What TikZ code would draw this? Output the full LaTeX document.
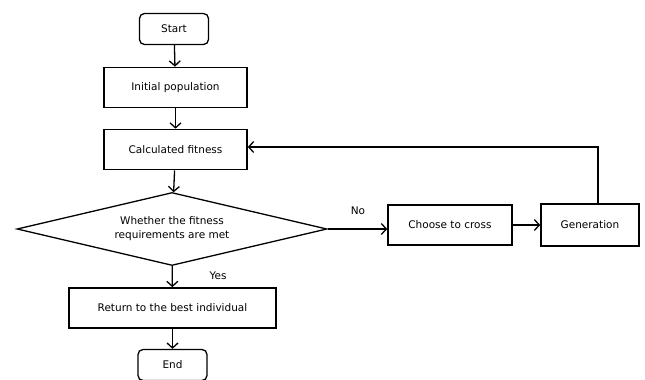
\documentclass[tikz,border=0pt]{standalone}
\usepackage{fontspec}
\setmainfont{DejaVu Sans}
\usetikzlibrary{shapes.geometric,arrows.meta}
\begin{document}
\begin{tikzpicture}[x=1pt,y=-1pt,
  every node/.style={font=\fontsize{10.5pt}{14pt}\selectfont, inner sep=0pt},
  box/.style={draw, line width=1.6pt, minimum width=#1, minimum height=40pt},
  term/.style={draw, line width=1.3pt, rounded corners=5pt, minimum width=69pt, minimum height=31pt},
  arr/.style={line width=1.3pt, -{Straight Barb[length=5pt,width=11pt,line width=1.3pt]}}]
\useasboundingbox (0,0) rectangle (645,380);
\node[term] (start) at (174,29) {Start};
\node[box=143pt] (init) at (175.5,87.5) {Initial population};
\node[box=143pt] (fit) at (175.5,149.5) {Calculated fitness};
\node[draw, line width=1.3pt, diamond, aspect=4.2, minimum width=310pt, minimum height=73pt, align=center] (dec) at (172,229) {Whether the fitness\\requirements are met};
\node[box=207pt] (ret) at (172.5,308) {Return to the best individual};
\node[term] (end) at (172.5,365) {End};
\node[box=124pt] (cross) at (450,225) {Choose to cross};
\node[box=98pt, minimum height=42pt] (gen) at (590,225) {Generation};
\node (yes) at (218,276) {Yes};
\node (no) at (358,211) {No};
\coordinate (c1) at (598,147);
\draw[arr] (start) -- (init);
\draw[arr] (init) -- (fit);
\draw[arr] (fit) -- (dec);
\draw[arr] (dec) -- (ret);
\draw[arr] (ret) -- (end);
\draw[arr] (dec.east) -- (dec.east -| cross.west);
\draw[arr] (cross) -- (gen);
\draw[arr] (gen.north -| c1) -- (c1) -- (c1 -| fit.east);
\end{tikzpicture}
\end{document}
